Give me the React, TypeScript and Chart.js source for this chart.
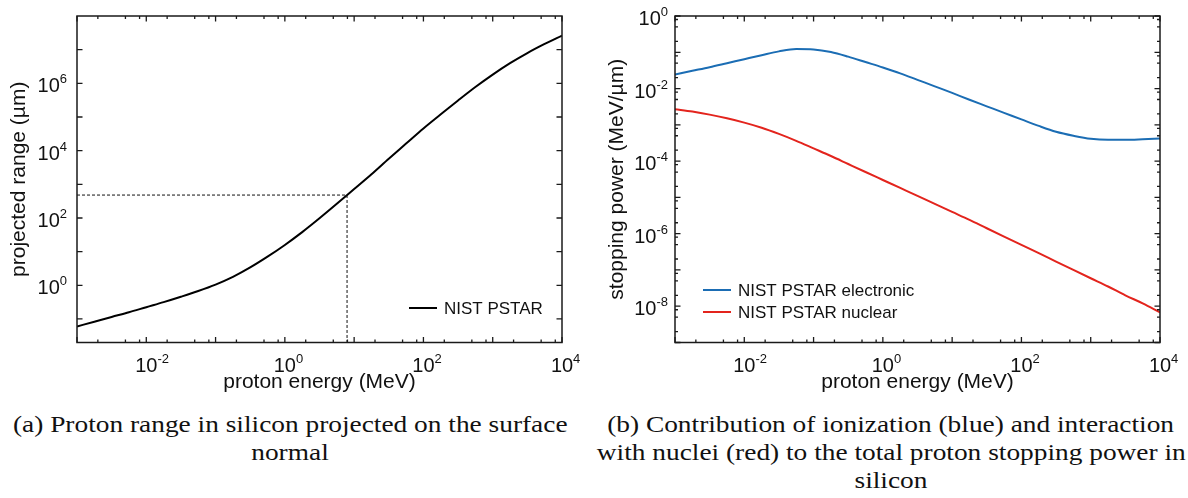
import React, { useEffect, useRef } from 'react';
import { Chart, registerables } from 'chart.js';

Chart.register(...registerables);

// ---------- data ----------
// shared energy grid (MeV), quarter-decade steps from 1 keV to 10 GeV
const energyMeV = [
  0.001, 0.00178, 0.00316, 0.00562, 0.01, 0.0178, 0.0316, 0.0562, 0.1, 0.178, 0.316, 0.562,
  1, 1.78, 3.16, 5.62, 10, 17.8, 31.6, 56.2, 100, 178, 316, 562, 1000, 1780, 3160, 5620, 10000,
];

// Panel (a): projected range of protons in silicon (µm)
const projectedRangeUm = [
  0.06, 0.083, 0.115, 0.158, 0.224, 0.316, 0.457, 0.676, 1.05, 1.78, 3.39, 7.08,
  15.8, 38, 97.7, 263, 724, 2000, 5750, 16200, 45700, 120000, 309000, 776000,
  1820000, 3980000, 7940000, 14800000, 26300000,
];
// dashed marker lines (energy, range)
const markerEnergyMeV = [0.001, 7.9, 7.9];
const markerRangeUm = [480, 480, 0.02];

// Panel (b): stopping power (MeV/µm)
const electronicStopping = [
  0.0245, 0.0309, 0.0389, 0.0501, 0.0646, 0.0832, 0.106, 0.123, 0.120, 0.102, 0.0759, 0.0537,
  0.038, 0.0263, 0.0174, 0.0115, 0.00759, 0.00490, 0.00324, 0.00214, 0.00141, 0.000933,
  0.000646, 0.000501, 0.000412, 0.000385, 0.000385, 0.000398, 0.000417,
];
const nuclearStopping = [
  0.00269, 0.00232, 0.00191, 0.00151, 0.00115, 0.000832, 0.000562, 0.000363, 0.000224,
  0.000138, 0.0000832, 0.0000501, 0.0000302, 0.0000182, 0.0000110, 0.0000066, 0.00000398,
  0.0000024, 0.00000141, 0.00000083, 0.00000049, 0.00000029, 0.00000017, 0.0000001,
  0.000000059, 0.000000035, 0.00000002, 0.000000012, 0.0000000068,
];

const xTickExponents = [-2, 0, 2, 4];
const rangeTickExponents = [0, 2, 4, 6];
const stoppingTickExponents = [0, -2, -4, -6, -8];
const minorMultipliers = [2, 5, 8];

const FONT = '"Liberation Sans", Arial, sans-serif';
const BLUE = '#1b6db4';
const RED = '#e3241d';

type PanelCfg = {
  xMinExp: number; xMaxExp: number;
  yMinExp: number; yMaxExp: number;
  yMinorTicks: boolean;
  yLabels: number[];
  yTitle: string; yTitleX: number;
  yLabelGap: number;
  legend: { color: string; text: string; y: number }[];
  legendX: number;
};

function makePlugin(cfg: PanelCfg) {
  return {
    id: 'frameTicks',
    afterDraw(chart: any) {
      const ctx = chart.ctx as CanvasRenderingContext2D;
      const { left, right, top, bottom } = chart.chartArea;
      const xs = chart.scales.x;
      const ys = chart.scales.y;
      ctx.save();
      ctx.strokeStyle = '#1a1a1a';
      ctx.lineWidth = 1.5;
      ctx.strokeRect(left, top, right - left, bottom - top);
      ctx.lineWidth = 1.3;
      // x ticks (inward, bottom and top)
      for (let d = cfg.xMinExp; d <= cfg.xMaxExp; d++) {
        const px = xs.getPixelForValue(Math.pow(10, d));
        ctx.beginPath();
        ctx.moveTo(px, bottom); ctx.lineTo(px, bottom - 5.5);
        ctx.moveTo(px, top); ctx.lineTo(px, top + 5.5);
        ctx.stroke();
        if (d < cfg.xMaxExp) {
          for (const m of minorMultipliers) {
            const mx = xs.getPixelForValue(m * Math.pow(10, d));
            ctx.beginPath();
            ctx.moveTo(mx, bottom); ctx.lineTo(mx, bottom - 3);
            ctx.moveTo(mx, top); ctx.lineTo(mx, top + 3);
            ctx.stroke();
          }
        }
      }
      // y ticks (inward, left and right)
      for (let d = cfg.yMinExp; d <= cfg.yMaxExp; d++) {
        const v = Math.pow(10, d);
        if (v >= ys.min && v <= ys.max) {
          const py = ys.getPixelForValue(v);
          ctx.beginPath();
          ctx.moveTo(left, py); ctx.lineTo(left + 5.5, py);
          ctx.moveTo(right, py); ctx.lineTo(right - 5.5, py);
          ctx.stroke();
        }
        if (cfg.yMinorTicks) {
          for (const m of minorMultipliers) {
            const mv = m * v;
            if (mv <= ys.min || mv >= ys.max) continue;
            const my = ys.getPixelForValue(mv);
            ctx.beginPath();
            ctx.moveTo(left, my); ctx.lineTo(left + 3, my);
            ctx.moveTo(right, my); ctx.lineTo(right - 3, my);
            ctx.stroke();
          }
        }
      }
      // tick labels: "10" with superscript exponent
      ctx.fillStyle = '#111';
      ctx.textBaseline = 'alphabetic';
      const baseFont = `20px ${FONT}`;
      const supFont = `13px ${FONT}`;
      for (const e of xTickExponents) {
        const px = xs.getPixelForValue(Math.pow(10, e));
        ctx.font = baseFont;
        const w1 = ctx.measureText('10').width;
        ctx.textAlign = 'left';
        ctx.fillText('10', px - w1 / 2, bottom + 29);
        ctx.font = supFont;
        ctx.fillText(String(e), px + w1 / 2, bottom + 20);
      }
      for (const e of cfg.yLabels) {
        const py = ys.getPixelForValue(Math.pow(10, e));
        ctx.font = supFont;
        const w2 = ctx.measureText(String(e)).width;
        ctx.font = baseFont;
        const w1 = ctx.measureText('10').width;
        const xr = left - cfg.yLabelGap;
        ctx.textAlign = 'left';
        ctx.fillText('10', xr - w2 - w1, py + 9);
        ctx.font = supFont;
        ctx.fillText(String(e), xr - w2, py);
      }
      // axis titles
      ctx.font = `21px ${FONT}`;
      ctx.textAlign = 'center';
      ctx.textBaseline = 'middle';
      ctx.fillText('proton energy (MeV)', (left + right) / 2, bottom + 40);
      ctx.save();
      ctx.translate(cfg.yTitleX, (top + bottom) / 2);
      ctx.rotate(-Math.PI / 2);
      ctx.fillText(cfg.yTitle, 0, 0);
      ctx.restore();
      // legend (inside plot)
      ctx.font = `17px ${FONT}`;
      ctx.textAlign = 'left';
      for (const item of cfg.legend) {
        ctx.strokeStyle = item.color;
        ctx.lineWidth = 2;
        ctx.beginPath();
        ctx.moveTo(cfg.legendX, item.y);
        ctx.lineTo(cfg.legendX + 28, item.y);
        ctx.stroke();
        ctx.fillStyle = '#111';
        ctx.fillText(item.text, cfg.legendX + 35, item.y + 1);
      }
      ctx.restore();
    },
  };
}

function pts(xs: number[], ys: number[]) {
  return xs.map((x, i) => ({ x, y: ys[i] }));
}

function RangeChart() {
  const ref = useRef<HTMLCanvasElement>(null);
  useEffect(() => {
    const chart = new Chart(ref.current!, {
      type: 'line',
      data: {
        datasets: [
          {
            label: 'marker',
            data: pts(markerEnergyMeV, markerRangeUm),
            borderColor: '#111',
            borderWidth: 1,
            borderDash: [3, 2],
            pointRadius: 0,
            tension: 0,
          },
          {
            label: 'NIST PSTAR',
            data: pts(energyMeV, projectedRangeUm),
            borderColor: '#000',
            borderWidth: 2,
            pointRadius: 0,
            cubicInterpolationMode: 'monotone',
          },
        ],
      },
      options: {
        animation: false,
        responsive: false,
        layout: { padding: { left: 77, right: 32, top: 16, bottom: 57.5 } },
        scales: {
          x: { type: 'logarithmic', min: 0.001, max: 10000, display: false },
          y: { type: 'logarithmic', min: 0.02, max: 1e8, display: false },
        },
        plugins: { legend: { display: false }, tooltip: { enabled: false } },
      },
      plugins: [
        makePlugin({
          xMinExp: -3, xMaxExp: 4, yMinExp: -1, yMaxExp: 7,
          yMinorTicks: false,
          yLabels: rangeTickExponents,
          yTitle: 'projected range (µm)', yTitleX: 19,
          yLabelGap: 10,
          legend: [{ color: '#000', text: 'NIST PSTAR', y: 308 }],
          legendX: 409,
        }),
      ],
    } as any);
    return () => chart.destroy();
  }, []);
  return <canvas ref={ref} width={594} height={400} style={{ display: 'block' }} />;
}

function StoppingChart() {
  const ref = useRef<HTMLCanvasElement>(null);
  useEffect(() => {
    const chart = new Chart(ref.current!, {
      type: 'line',
      data: {
        datasets: [
          {
            label: 'NIST PSTAR electronic',
            data: pts(energyMeV, electronicStopping),
            borderColor: BLUE,
            borderWidth: 2,
            pointRadius: 0,
            cubicInterpolationMode: 'monotone',
          },
          {
            label: 'NIST PSTAR nuclear',
            data: pts(energyMeV, nuclearStopping),
            borderColor: RED,
            borderWidth: 2,
            pointRadius: 0,
            cubicInterpolationMode: 'monotone',
          },
        ],
      },
      options: {
        animation: false,
        responsive: false,
        layout: { padding: { left: 81, right: 28, top: 16, bottom: 57.5 } },
        scales: {
          x: { type: 'logarithmic', min: 0.001, max: 10000, display: false },
          y: { type: 'logarithmic', min: 1e-9, max: 1, display: false },
        },
        plugins: { legend: { display: false }, tooltip: { enabled: false } },
      },
      plugins: [
        makePlugin({
          xMinExp: -3, xMaxExp: 4, yMinExp: -9, yMaxExp: 0,
          yMinorTicks: true,
          yLabels: stoppingTickExponents,
          yTitle: 'stopping power (MeV/µm)', yTitleX: 23,
          yLabelGap: 7,
          legend: [
            { color: BLUE, text: 'NIST PSTAR electronic', y: 290 },
            { color: RED, text: 'NIST PSTAR nuclear', y: 312 },
          ],
          legendX: 109,
        }),
      ],
    } as any);
    return () => chart.destroy();
  }, []);
  return <canvas ref={ref} width={594} height={400} style={{ display: 'block' }} />;
}

const captionRow: React.CSSProperties = {
  position: 'absolute',
  height: 28,
  textAlign: 'center',
  whiteSpace: 'nowrap',
};
const captionText: React.CSSProperties = {
  display: 'inline-block',
  fontFamily: '"Liberation Serif", "Times New Roman", serif',
  fontSize: 24,
  lineHeight: '28px',
  color: '#111',
  transform: 'scaleX(1.14)',
  transformOrigin: 'center',
};

function CaptionLine({ left, top, width, text }: { left: number; top: number; width: number; text: string }) {
  return (
    <div style={{ ...captionRow, left, top, width }}>
      <span style={captionText}>{text}</span>
    </div>
  );
}

export default function App() {
  return (
    <div style={{ position: 'absolute', left: 0, top: 0, width: 1188, height: 498, background: '#fff', overflow: 'hidden' }}>
      <div style={{ position: 'absolute', left: 0, top: 0 }}>
        <RangeChart />
      </div>
      <div style={{ position: 'absolute', left: 594, top: 0 }}>
        <StoppingChart />
      </div>
      <CaptionLine left={0} top={410} width={580} text="(a) Proton range in silicon projected on the surface" />
      <CaptionLine left={0} top={438} width={580} text="normal" />
      <CaptionLine left={594} top={410} width={594} text="(b) Contribution of ionization (blue) and interaction" />
      <CaptionLine left={594} top={438} width={594} text="with nuclei (red) to the total proton stopping power in" />
      <CaptionLine left={594} top={466} width={594} text="silicon" />
    </div>
  );
}
